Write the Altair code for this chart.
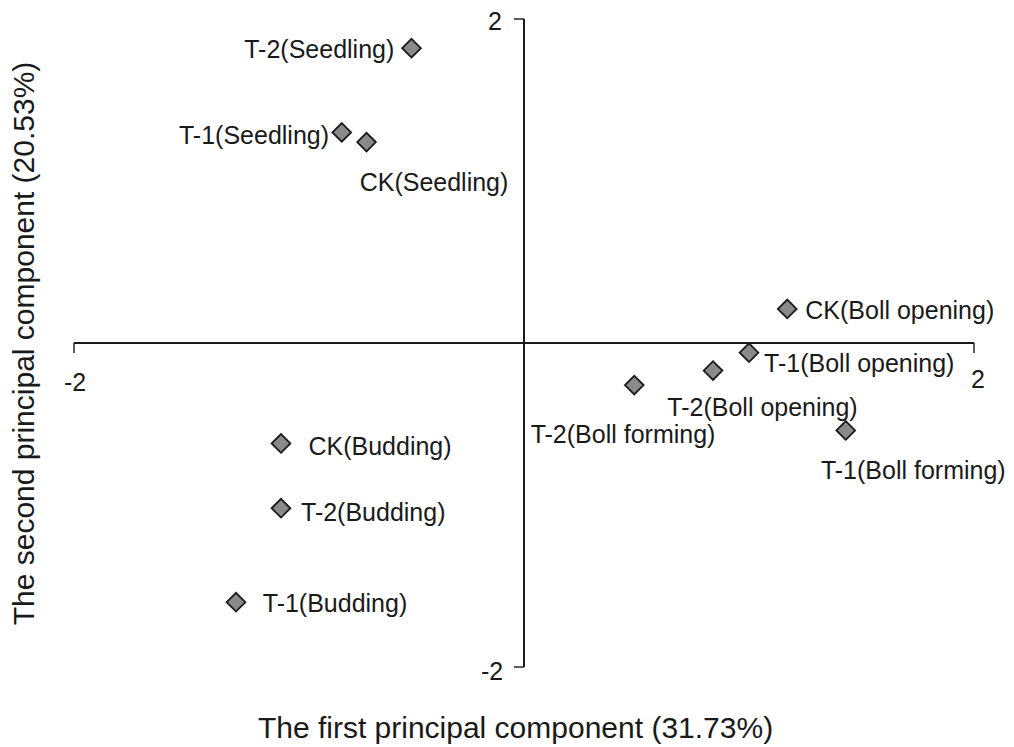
import altair as alt
import pandas as pd

# ---- data ----
names = ["T-2(Seedling)", "T-1(Seedling)", "CK(Seedling)",
         "CK(Boll opening)", "T-1(Boll opening)", "T-2(Boll opening)",
         "T-2(Boll forming)", "T-1(Boll forming)",
         "CK(Budding)", "T-2(Budding)", "T-1(Budding)"]
pc1 = [-0.50, -0.81, -0.70, 1.17, 1.00, 0.84, 0.49, 1.43, -1.08, -1.08, -1.28]
pc2 = [1.82, 1.30, 1.24, 0.21, -0.06, -0.17, -0.26, -0.54, -0.62, -1.02, -1.60]
# label centre positions (data units)
lab_x = [-0.91, -1.20, -0.40, 1.67, 1.49, 1.06, 0.44, 1.73, -0.64, -0.67, -0.84]
lab_y = [1.81, 1.28, 0.99, 0.20, -0.13, -0.40, -0.57, -0.79, -0.64, -1.05, -1.61]

x_title = "The first principal component (31.73%)"
y_title = "The second principal component (20.53%)"
tick_vals = [-2, 2]

FONT = "Liberation Sans, Arial, Helvetica, sans-serif"
INK = "#1a1a1a"

pts = pd.DataFrame({"name": names, "pc1": pc1, "pc2": pc2,
                    "lx": lab_x, "ly": lab_y})
axes_df = pd.DataFrame({"x1": [-2], "x2": [2], "y1": [-2], "y2": [2], "z": [0]})
xt = pd.DataFrame({"v": tick_vals, "z": [0, 0], "t": [str(v) for v in tick_vals]})

xs = alt.Scale(domain=[-2, 2], nice=False, zero=False)
ys = alt.Scale(domain=[-2, 2], nice=False, zero=False)

base_x = alt.X("pc1:Q", scale=xs,
               axis=alt.Axis(title=x_title, labels=False, ticks=False, domain=False,
                             grid=False, titleFont=FONT, titleFontSize=30,
                             titleFontWeight="normal", titleColor=INK,
                             titlePadding=46, titleX=441))
base_y = alt.Y("pc2:Q", scale=ys,
               axis=alt.Axis(title=y_title, labels=False, ticks=False, domain=False,
                             grid=False, titleFont=FONT, titleFontSize=30,
                             titleFontWeight="normal", titleColor=INK,
                             titlePadding=35))

points = alt.Chart(pts).mark_point(
    shape="diamond", filled=True, size=350, fill="#8a8a8a",
    stroke=INK, strokeWidth=1.8, opacity=1
).encode(x=base_x, y=base_y)

labels = alt.Chart(pts).mark_text(
    font=FONT, fontSize=25, color=INK, align="center", baseline="middle"
).encode(x=alt.X("lx:Q", scale=xs), y=alt.Y("ly:Q", scale=ys), text="name:N")

hline = alt.Chart(axes_df).mark_rule(color=INK, strokeWidth=2).encode(
    x=alt.X("x1:Q", scale=xs), x2="x2:Q", y=alt.Y("z:Q", scale=ys))
vline = alt.Chart(axes_df).mark_rule(color=INK, strokeWidth=2).encode(
    y=alt.Y("y1:Q", scale=ys), y2="y2:Q", x=alt.X("z:Q", scale=xs))

xticks = alt.Chart(xt).mark_tick(orient="vertical", size=10, thickness=2,
                                 color=INK, yOffset=5).encode(
    x=alt.X("v:Q", scale=xs), y=alt.Y("z:Q", scale=ys))
yticks = alt.Chart(xt).mark_tick(orient="horizontal", size=10, thickness=2,
                                 color=INK, xOffset=-5).encode(
    y=alt.Y("v:Q", scale=ys), x=alt.X("z:Q", scale=xs))

xlab_l = alt.Chart(xt[xt.v < 0]).mark_text(font=FONT, fontSize=25, color=INK,
                                           dx=1, dy=40).encode(
    x=alt.X("v:Q", scale=xs), y=alt.Y("z:Q", scale=ys), text="t:N")
xlab_r = alt.Chart(xt[xt.v > 0]).mark_text(font=FONT, fontSize=25, color=INK,
                                           dx=4, dy=37).encode(
    x=alt.X("v:Q", scale=xs), y=alt.Y("z:Q", scale=ys), text="t:N")
ylab_t = alt.Chart(xt[xt.v > 0]).mark_text(font=FONT, fontSize=25, color=INK,
                                           dx=-29, dy=3).encode(
    y=alt.Y("v:Q", scale=ys), x=alt.X("z:Q", scale=xs), text="t:N")
ylab_b = alt.Chart(xt[xt.v < 0]).mark_text(font=FONT, fontSize=25, color=INK,
                                           dx=-32, dy=5).encode(
    y=alt.Y("v:Q", scale=ys), x=alt.X("z:Q", scale=xs), text="t:N")

chart = alt.layer(
    hline, vline, xticks, yticks, points, labels, xlab_l, xlab_r, ylab_t, ylab_b
).properties(
    width=900, height=648,
    autosize=alt.AutoSizeParams(type="none"),
    padding={"left": 66, "top": 11, "right": 32, "bottom": 80},
    background="white",
).configure_view(stroke=None)

chart.save("out.html", embed_options={"renderer": "svg", "actions": False})
